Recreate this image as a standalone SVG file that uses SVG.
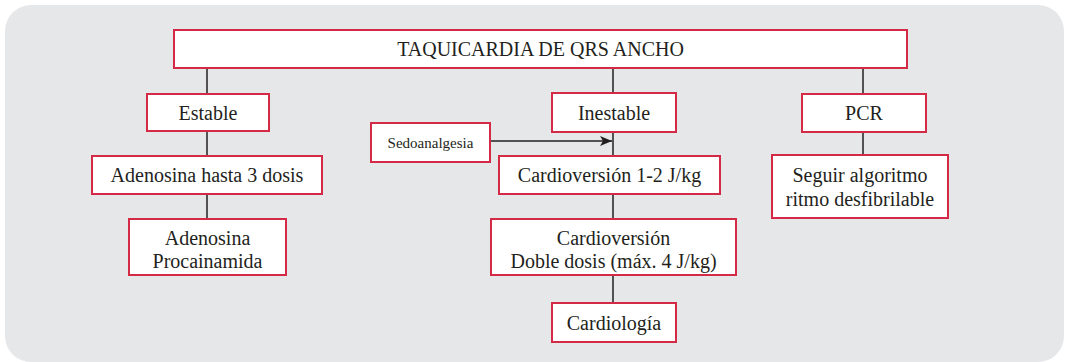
<svg xmlns="http://www.w3.org/2000/svg" width="1065" height="362" viewBox="0 0 1065 362">
<defs>
<style>
.bg{fill:#e6e7e9;}
.box{fill:#fff;stroke:#d42a45;stroke-width:2;}
.t{font-size:20px;fill:#231f20;text-anchor:middle;}
.s{font-size:15px;}
.ln{stroke:#231f20;stroke-width:1.5;fill:none;}
</style>
<marker id="ah" viewBox="0 0 12 10" refX="12" refY="5" markerWidth="12" markerHeight="10" markerUnits="userSpaceOnUse" orient="auto">
<path d="M0,0 L12,5 L0,10 L3,5 Z" fill="#231f20"/>
</marker>
</defs>
<rect class="bg" x="5" y="5" width="1059" height="357" rx="26"/>
<g id="connectors">
<line class="ln" x1="207" y1="68" x2="207" y2="94"/>
<line class="ln" x1="613" y1="68" x2="613" y2="93"/>
<line class="ln" x1="863" y1="68" x2="863" y2="94"/>
<line class="ln" x1="207" y1="131" x2="207" y2="156"/>
<line class="ln" x1="207" y1="194" x2="207" y2="219"/>
<line class="ln" x1="613" y1="132" x2="613" y2="156"/>
<line class="ln" x1="613" y1="194" x2="613" y2="219"/>
<line class="ln" x1="613" y1="275" x2="613" y2="303"/>
<line class="ln" x1="863" y1="132" x2="863" y2="155"/>
<line class="ln" x1="490" y1="141" x2="612" y2="141" marker-end="url(#ah)"/>
</g>
<g font-family="'Liberation Serif', 'DejaVu Serif', serif">
<g id="n-top"><rect class="box" x="174" y="30" width="733" height="38"/><text class="t" x="540.5" y="56">TAQUICARDIA DE QRS ANCHO</text></g>
<g id="n-estable"><rect class="box" x="147" y="94" width="122" height="37"/><text class="t" x="208" y="119.5">Estable</text></g>
<g id="n-inestable"><rect class="box" x="552" y="93" width="124" height="39"/><text class="t" x="614" y="119.5">Inestable</text></g>
<g id="n-pcr"><rect class="box" x="802" y="94" width="124" height="38"/><text class="t" x="864" y="120">PCR</text></g>
<g id="n-sedo"><rect class="box" x="371" y="123" width="119" height="39"/><text class="t s" x="430.5" y="147.5">Sedoanalgesia</text></g>
<g id="n-adeno3"><rect class="box" x="92" y="156" width="230" height="38"/><text class="t" x="207" y="182">Adenosina hasta 3 dosis</text></g>
<g id="n-cardio1"><rect class="box" x="499" y="156" width="221" height="38"/><text class="t" x="609.5" y="182">Cardioversión 1-2 J/kg</text></g>
<g id="n-seguir"><rect class="box" x="772" y="155" width="176" height="63"/><text class="t" x="860" y="182">Seguir algoritmo</text><text class="t" x="860" y="205.5">ritmo desfibrilable</text></g>
<g id="n-adenoproc"><rect class="box" x="129" y="219" width="157" height="56"/><text class="t" x="207.5" y="244.5">Adenosina</text><text class="t" x="207.5" y="267.5">Procainamida</text></g>
<g id="n-cardio2"><rect class="box" x="491" y="219" width="245" height="56"/><text class="t" x="613.5" y="244.5">Cardioversión</text><text class="t" x="613.5" y="267.5">Doble dosis (máx. 4 J/kg)</text></g>
<g id="n-cardiologia"><rect class="box" x="552" y="303" width="124" height="39"/><text class="t" x="614" y="329.5">Cardiología</text></g>
</g>
</svg>
